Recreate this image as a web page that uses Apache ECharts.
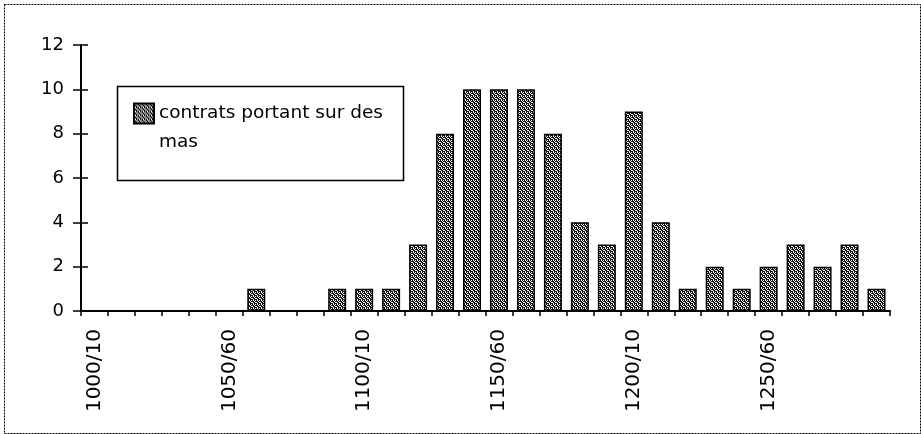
<!DOCTYPE html>
<html>
<head>
<meta charset="utf-8">
<script src="https://cdn.jsdelivr.net/npm/echarts@6/dist/echarts.min.js"></script>
<style>
  html, body { margin: 0; padding: 0; background: #fff; }
  #chart { width: 921px; height: 434px; }
</style>
</head>
<body>
<div id="chart"></div>
<script>
// décennies (une étiquette sur cinq est affichée)
var decades = [
  "1000/10", "1010/20", "1020/30", "1030/40", "1040/50",
  "1050/60", "1060/70", "1070/80", "1080/90", "1090/00",
  "1100/10", "1110/20", "1120/30", "1130/40", "1140/50",
  "1150/60", "1160/70", "1170/80", "1180/90", "1190/00",
  "1200/10", "1210/20", "1220/30", "1230/40", "1240/50",
  "1250/60", "1260/70", "1270/80", "1280/90", "1290/00"
]
var contrats = [
  0, 0, 0, 0, 0,
  0, 1, 0, 0, 1,
  1, 1, 3, 8, 10,
  10, 10, 8, 4, 3,
  9, 4, 1, 2, 1,
  2, 3, 2, 3, 1
]
var yTicks = { min: 0, max: 12, interval: 2 }
var seriesName = "contrats portant sur des mas"

// trame noir/blanc des barres
function makePattern() {
  var c = document.createElement("canvas")
  c.width = 4
  c.height = 4
  var ctx = c.getContext("2d")
  ctx.fillStyle = "#111"
  ctx.fillRect(0, 0, 4, 4)
  ctx.fillStyle = "#fff"
  var dots = [[1, 0], [3, 0], [2, 1], [0, 2], [3, 2], [1, 3]]
  dots.forEach(function (d) { ctx.fillRect(d[0], d[1], 1, 1) })
  return c
}

var font = "DejaVu Sans"
var gridLeft = 81
var gridRight = 31
var myChart = echarts.init(document.getElementById("chart"))
myChart.setOption({
  backgroundColor: "#fff",
  animation: false,
  grid: {
    left: gridLeft,
    right: gridRight,
    top: 45,
    bottom: 123,
    containLabel: false
  },
  legend: {
    data: [seriesName],
    icon: "rect",
    left: 133,
    top: 70,
    padding: 0,
    itemWidth: 20,
    itemHeight: 20,
    itemGap: 0,
    selectedMode: false,
    // ligne vide en tête : la première ligne reste au niveau du carré
    formatter: function () {
      return "\ncontrats portant sur des\nmas"
    },
    textStyle: {
      fontFamily: font,
      fontSize: 18.5,
      color: "#000",
      lineHeight: 29
    }
  },
  xAxis: {
    type: "category",
    data: decades,
    boundaryGap: true,
    axisLine: { lineStyle: { color: "#000", width: 2 } },
    axisTick: { show: true, interval: 0, length: 5, lineStyle: { color: "#000", width: 1.5 } },
    axisLabel: {
      interval: 4,
      rotate: 90,
      margin: 18,
      fontFamily: font,
      fontSize: 20,
      color: "#000"
    },
    splitLine: { show: false }
  },
  yAxis: [
    {
      type: "value",
      min: yTicks.min,
      max: yTicks.max,
      interval: yTicks.interval,
      axisLine: { show: true, lineStyle: { color: "#000", width: 2 } },
      axisTick: { show: true, length: 8, lineStyle: { color: "#000", width: 1.5 } },
      axisLabel: { margin: 17, fontFamily: font, fontSize: 18, color: "#000" },
      splitLine: { show: false }
    },
    {
      // petits traits côté intérieur : axe droit ramené sur l'axe gauche
      type: "value",
      position: "right",
      offset: -(921 - gridLeft - gridRight),
      min: yTicks.min,
      max: yTicks.max,
      interval: yTicks.interval,
      axisLine: { show: false },
      axisTick: { show: true, length: 7, lineStyle: { color: "#000", width: 1.5 } },
      axisLabel: { show: false },
      splitLine: { show: false }
    }
  ],
  series: [
    {
      name: seriesName,
      type: "bar",
      data: contrats,
      yAxisIndex: 0,
      barWidth: 18,
      itemStyle: {
        color: { image: makePattern(), repeat: "repeat" },
        borderColor: "#000",
        borderWidth: 1.5
      }
    }
  ],
  graphic: [
    {
      type: "rect",
      left: 2,
      top: 2,
      shape: { width: 916, height: 429 },
      style: { fill: "none", stroke: "#000", lineWidth: 1, lineDash: [2, 1] },
      z: -1
    },
    {
      type: "rect",
      left: 115,
      top: 84,
      shape: { width: 286, height: 94 },
      style: { fill: "none", stroke: "#000", lineWidth: 1.5 },
      z: 5
    }
  ]
})
</script>
</body>
</html>
